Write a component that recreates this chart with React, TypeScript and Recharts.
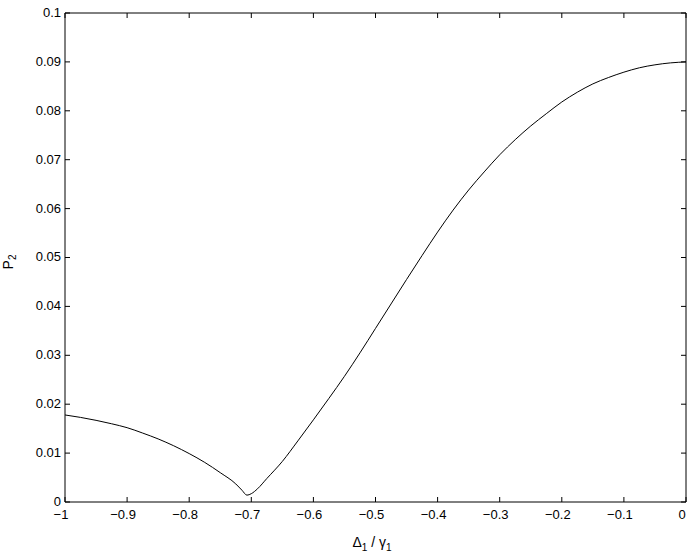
import React from "react"
import { LineChart, Line, XAxis, YAxis, ReferenceLine } from "recharts"

const detuning = [
  -1, -0.975, -0.95, -0.925, -0.9, -0.875, -0.85, -0.825, -0.8, -0.775, -0.75, -0.725, -0.715, -0.707,
  -0.7, -0.69, -0.675, -0.65, -0.625, -0.6, -0.575, -0.55, -0.525, -0.5, -0.475, -0.45, -0.425, -0.4,
  -0.375, -0.35, -0.325, -0.3, -0.275, -0.25, -0.225, -0.2, -0.175, -0.15, -0.125, -0.1, -0.075, -0.05,
  -0.025, 0,
]

const population = [
  0.0178, 0.0173, 0.0167, 0.016, 0.0152, 0.0141, 0.0129, 0.0115, 0.0099, 0.0081, 0.006, 0.0037, 0.0024, 0.0014,
  0.0017, 0.0027, 0.0048, 0.0083, 0.0125, 0.0168, 0.0212, 0.0257, 0.0305, 0.0355, 0.0405, 0.0455, 0.0504, 0.0552,
  0.0597, 0.0638, 0.0675, 0.071, 0.0741, 0.0769, 0.0794, 0.0818, 0.0838, 0.0855, 0.0868, 0.0879, 0.0888, 0.0894,
  0.0898, 0.09,
]

const xTicks = [-1, -0.9, -0.8, -0.7, -0.6, -0.5, -0.4, -0.3, -0.2, -0.1, 0]
const xTickLabels = ["−1", "−0.9", "−0.8", "−0.7", "−0.6", "−0.5", "−0.4", "−0.3", "−0.2", "−0.1", "0"]
const yTicks = [0, 0.01, 0.02, 0.03, 0.04, 0.05, 0.06, 0.07, 0.08, 0.09, 0.1]
const yTickLabels = ["0", "0.01", "0.02", "0.03", "0.04", "0.05", "0.06", "0.07", "0.08", "0.09", "0.1"]

const data = detuning.map((x, i) => ({ x, p: population[i] }))

const FONT = "'Liberation Sans', Arial, Helvetica, sans-serif"
const W = 695
const H = 557
const MARGIN = { top: 13, right: 9, left: 0, bottom: 0 }
const PLOT_TOP = MARGIN.top
const PLOT_RIGHT = W - MARGIN.right
const TICK_LEN = 5

// bottom tick: inward mark on the bottom and mirrored one on the top edge of the box
function BottomTick({ x, y, index }: any) {
  return (
    <g>
      <line x1={x} y1={y} x2={x} y2={y - TICK_LEN} stroke="#000" />
      <line x1={x} y1={PLOT_TOP} x2={x} y2={PLOT_TOP + TICK_LEN} stroke="#000" />
      <text x={x - 4} y={y + 8} dy="0.71em" textAnchor="middle" fontSize={13} fontFamily={FONT} fill="#000">
        {xTickLabels[index]}
      </text>
    </g>
  )
}

function LeftTick({ x, y, index }: any) {
  return (
    <g>
      <line x1={x} y1={y} x2={x + TICK_LEN} y2={y} stroke="#000" />
      <line x1={PLOT_RIGHT} y1={y} x2={PLOT_RIGHT - TICK_LEN} y2={y} stroke="#000" />
      <text x={x - 4} y={y} dy="0.3em" textAnchor="end" fontSize={13} fontFamily={FONT} fill="#000">
        {yTickLabels[index]}
      </text>
    </g>
  )
}

export default function App() {
  return (
    <div style={{ position: "absolute", left: 0, top: 0, width: W, height: H, background: "#fff" }}>
      <LineChart width={W} height={H} data={data} margin={MARGIN}>
        <XAxis
          dataKey="x"
          type="number"
          domain={[-1, 0]}
          ticks={xTicks}
          height={55}
          tickSize={0}
          tickMargin={0}
          tickLine={false}
          axisLine={{ stroke: "#000" }}
          tick={<BottomTick />}
          interval={0}
        />
        <YAxis
          type="number"
          domain={[0, 0.1]}
          ticks={yTicks}
          width={65}
          tickSize={0}
          tickMargin={0}
          tickLine={false}
          axisLine={{ stroke: "#000" }}
          tick={<LeftTick />}
          interval={0}
        />
        <ReferenceLine y={0.1} stroke="#000" />
        <ReferenceLine x={0} stroke="#000" />
        <Line
          dataKey="p"
          type="monotone"
          stroke="#000"
          strokeWidth={1}
          dot={false}
          isAnimationActive={false}
        />
        <text x={372} y={547} textAnchor="middle" fontSize={14} fontFamily={FONT} fill="#000">
          Δ<tspan dy={4} fontSize={10}>1</tspan>
          <tspan dy={-4}> / γ</tspan>
          <tspan dy={4} fontSize={10}>1</tspan>
        </text>
        <text
          x={13}
          y={262}
          transform="rotate(-90, 13, 262)"
          textAnchor="middle"
          fontSize={14}
          fontFamily={FONT}
          fill="#000"
        >
          P<tspan dy={3} fontSize={10}>2</tspan>
        </text>
      </LineChart>
    </div>
  )
}
